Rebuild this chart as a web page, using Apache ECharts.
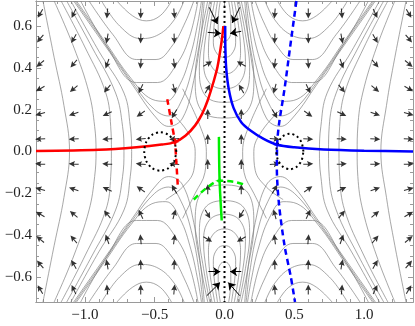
<!DOCTYPE html>
<html>
<head>
<meta charset="utf-8">
<script src="https://cdn.jsdelivr.net/npm/echarts@6/dist/echarts.min.js"></script>
<style>html,body{margin:0;padding:0;background:#fff}#chart{width:415px;height:326px}</style>
</head>
<body>
<div id="chart"></div>
<script>
// tick positions
var xMajor = [-1, -0.5, 0, 0.5, 1]
var xMinor = [-1.3, -1.2, -1.1, -0.9, -0.8, -0.7, -0.6, -0.4, -0.3, -0.2, -0.1, 0.1, 0.2, 0.3, 0.4, 0.6, 0.7, 0.8, 0.9, 1.1, 1.2, 1.3]
var yMajor = [-0.6, -0.4, -0.2, 0, 0.2, 0.4, 0.6]
var yMinor = [-0.7, -0.65, -0.55, -0.5, -0.45, -0.35, -0.3, -0.25, -0.15, -0.1, -0.05, 0.05, 0.1, 0.15, 0.25, 0.3, 0.35, 0.45, 0.5, 0.55, 0.65, 0.7]

// gray stream lines
var arcsLeft = [
  [[-1.30,0.72],[-1.22,0.45],[-1.15,0.22],[-1.11,0],[-1.15,-0.22],[-1.22,-0.45],[-1.30,-0.72]],
  [[-1.22,0.72],[-1.08,0.5],[-0.97,0.28],[-0.93,0.12],[-0.92,0],[-0.93,-0.12],[-0.97,-0.28],[-1.08,-0.5],[-1.22,-0.72]],
  [[-1.17,0.72],[-1.0,0.5],[-0.85,0.28],[-0.815,0.12],[-0.81,0],[-0.815,-0.12],[-0.85,-0.28],[-1.0,-0.5],[-1.17,-0.72]],
  [[-1.13,0.72],[-0.95,0.5],[-0.78,0.28],[-0.73,0.12],[-0.72,0],[-0.73,-0.12],[-0.78,-0.28],[-0.95,-0.5],[-1.13,-0.72]],
  [[-1.1,0.72],[-0.9,0.48],[-0.72,0.28],[-0.675,0.12],[-0.665,0],[-0.675,-0.12],[-0.72,-0.28],[-0.9,-0.48],[-1.1,-0.72]]
]
var arcsRight = [
  [[1.30,0.72],[1.22,0.45],[1.16,0.22],[1.12,0],[1.16,-0.22],[1.22,-0.45],[1.30,-0.72]],
  [[1.22,0.72],[1.09,0.5],[0.99,0.28],[0.955,0.12],[0.95,0],[0.955,-0.12],[0.99,-0.28],[1.09,-0.5],[1.22,-0.72]],
  [[1.17,0.72],[1.0,0.5],[0.86,0.28],[0.825,0.12],[0.82,0],[0.825,-0.12],[0.86,-0.28],[1.0,-0.5],[1.17,-0.72]],
  [[1.14,0.72],[0.96,0.5],[0.8,0.28],[0.75,0.12],[0.745,0],[0.75,-0.12],[0.8,-0.28],[0.96,-0.5],[1.14,-0.72]],
  [[1.11,0.72],[0.91,0.48],[0.735,0.28],[0.69,0.12],[0.68,0],[0.69,-0.12],[0.735,-0.28],[0.91,-0.48],[1.11,-0.72]]
]
var bundleTL = [
  [[-1.08,0.72],[-0.88,0.53],[-0.66,0.32],[-0.5,0.17],[-0.4,0.12],[-0.3,0.16],[-0.22,0.34],[-0.17,0.55],[-0.145,0.72]],
  [[-1.07,0.72],[-0.87,0.53],[-0.66,0.33],[-0.5,0.2],[-0.4,0.17],[-0.31,0.24],[-0.23,0.4],[-0.18,0.58],[-0.155,0.72]],
  [[-1.06,0.72],[-0.86,0.53],[-0.67,0.35],[-0.52,0.25],[-0.42,0.24],[-0.32,0.32],[-0.24,0.47],[-0.19,0.62],[-0.165,0.72]]
]
var bundleTR = [
  [[1.08,0.72],[0.88,0.53],[0.66,0.32],[0.5,0.17],[0.4,0.12],[0.3,0.16],[0.22,0.34],[0.17,0.55],[0.145,0.72]],
  [[1.07,0.72],[0.87,0.53],[0.66,0.33],[0.5,0.2],[0.4,0.17],[0.31,0.24],[0.23,0.4],[0.18,0.58],[0.155,0.72]],
  [[1.06,0.72],[0.86,0.53],[0.67,0.35],[0.52,0.25],[0.42,0.24],[0.32,0.32],[0.24,0.47],[0.19,0.62],[0.165,0.72]]
]
var bundleBL = [
  [[-1.08,-0.72],[-0.88,-0.53],[-0.66,-0.32],[-0.5,-0.17],[-0.4,-0.12],[-0.3,-0.16],[-0.22,-0.34],[-0.17,-0.55],[-0.145,-0.72]],
  [[-1.07,-0.72],[-0.87,-0.53],[-0.66,-0.33],[-0.5,-0.2],[-0.4,-0.17],[-0.31,-0.24],[-0.23,-0.4],[-0.18,-0.58],[-0.155,-0.72]],
  [[-1.06,-0.72],[-0.86,-0.53],[-0.67,-0.35],[-0.52,-0.25],[-0.42,-0.24],[-0.32,-0.32],[-0.24,-0.47],[-0.19,-0.62],[-0.165,-0.72]]
]
var bundleBR = [
  [[1.08,-0.72],[0.88,-0.53],[0.66,-0.32],[0.5,-0.17],[0.4,-0.12],[0.3,-0.16],[0.22,-0.34],[0.17,-0.55],[0.145,-0.72]],
  [[1.07,-0.72],[0.87,-0.53],[0.66,-0.33],[0.5,-0.2],[0.4,-0.17],[0.31,-0.24],[0.23,-0.4],[0.18,-0.58],[0.155,-0.72]],
  [[1.06,-0.72],[0.86,-0.53],[0.67,-0.35],[0.52,-0.25],[0.42,-0.24],[0.32,-0.32],[0.24,-0.47],[0.19,-0.62],[0.165,-0.72]]
]
var cupsTL = [
  [[-1.03,0.72],[-0.84,0.5],[-0.63,0.33],[-0.48,0.33],[-0.34,0.42],[-0.25,0.55],[-0.19,0.72]],
  [[-0.97,0.72],[-0.8,0.56],[-0.63,0.44],[-0.49,0.44],[-0.37,0.51],[-0.28,0.62],[-0.22,0.72]],
  [[-0.88,0.72],[-0.75,0.6],[-0.6,0.54],[-0.47,0.56],[-0.36,0.63],[-0.29,0.72]],
  [[-0.77,0.72],[-0.66,0.65],[-0.56,0.625],[-0.46,0.65],[-0.38,0.72]]
]
var cupsTR = [
  [[1.03,0.72],[0.84,0.5],[0.63,0.33],[0.48,0.33],[0.34,0.42],[0.25,0.55],[0.19,0.72]],
  [[0.97,0.72],[0.8,0.56],[0.63,0.44],[0.49,0.44],[0.37,0.51],[0.28,0.62],[0.22,0.72]],
  [[0.88,0.72],[0.75,0.6],[0.6,0.54],[0.47,0.56],[0.36,0.63],[0.29,0.72]],
  [[0.77,0.72],[0.66,0.65],[0.56,0.625],[0.46,0.65],[0.38,0.72]]
]
var cupsBL = [
  [[-1.03,-0.72],[-0.84,-0.5],[-0.63,-0.33],[-0.48,-0.33],[-0.34,-0.42],[-0.25,-0.55],[-0.19,-0.72]],
  [[-0.97,-0.72],[-0.8,-0.56],[-0.63,-0.44],[-0.49,-0.44],[-0.37,-0.51],[-0.28,-0.62],[-0.22,-0.72]],
  [[-0.88,-0.72],[-0.75,-0.6],[-0.6,-0.54],[-0.47,-0.56],[-0.36,-0.63],[-0.29,-0.72]],
  [[-0.77,-0.72],[-0.66,-0.65],[-0.56,-0.625],[-0.46,-0.65],[-0.38,-0.72]]
]
var cupsBR = [
  [[1.03,-0.72],[0.84,-0.5],[0.63,-0.33],[0.48,-0.33],[0.34,-0.42],[0.25,-0.55],[0.19,-0.72]],
  [[0.97,-0.72],[0.8,-0.56],[0.63,-0.44],[0.49,-0.44],[0.37,-0.51],[0.28,-0.62],[0.22,-0.72]],
  [[0.88,-0.72],[0.75,-0.6],[0.6,-0.54],[0.47,-0.56],[0.36,-0.63],[0.29,-0.72]],
  [[0.77,-0.72],[0.66,-0.65],[0.56,-0.625],[0.46,-0.65],[0.38,-0.72]]
]
var loopsTop = [
  [[-0.03,0.72],[-0.045,0.63],[-0.045,0.57],[-0.025,0.535],[0,0.53],[0.025,0.535],[0.045,0.57],[0.045,0.63],[0.03,0.72]],
  [[-0.05,0.72],[-0.075,0.6],[-0.08,0.52],[-0.05,0.465],[0,0.45],[0.05,0.465],[0.08,0.52],[0.075,0.6],[0.05,0.72]],
  [[-0.07,0.72],[-0.105,0.58],[-0.115,0.47],[-0.08,0.395],[0,0.37],[0.08,0.395],[0.115,0.47],[0.105,0.58],[0.07,0.72]],
  [[-0.09,0.72],[-0.13,0.57],[-0.15,0.43],[-0.11,0.33],[0,0.3],[0.11,0.33],[0.15,0.43],[0.13,0.57],[0.09,0.72]],
  [[-0.105,0.72],[-0.15,0.56],[-0.18,0.4],[-0.14,0.27],[0,0.235],[0.14,0.27],[0.18,0.4],[0.15,0.56],[0.105,0.72]],
  [[-0.12,0.72],[-0.17,0.55],[-0.21,0.35],[-0.17,0.2],[0,0.16],[0.17,0.2],[0.21,0.35],[0.17,0.55],[0.12,0.72]]
]
var loopsBottom = [
  [[-0.03,-0.72],[-0.045,-0.63],[-0.045,-0.57],[-0.025,-0.535],[0,-0.53],[0.025,-0.535],[0.045,-0.57],[0.045,-0.63],[0.03,-0.72]],
  [[-0.05,-0.72],[-0.075,-0.6],[-0.08,-0.52],[-0.05,-0.465],[0,-0.45],[0.05,-0.465],[0.08,-0.52],[0.075,-0.6],[0.05,-0.72]],
  [[-0.07,-0.72],[-0.105,-0.58],[-0.115,-0.47],[-0.08,-0.395],[0,-0.37],[0.08,-0.395],[0.115,-0.47],[0.105,-0.58],[0.07,-0.72]],
  [[-0.09,-0.72],[-0.13,-0.57],[-0.15,-0.43],[-0.11,-0.33],[0,-0.3],[0.11,-0.33],[0.15,-0.43],[0.13,-0.57],[0.09,-0.72]],
  [[-0.105,-0.72],[-0.15,-0.56],[-0.18,-0.4],[-0.14,-0.27],[0,-0.235],[0.14,-0.27],[0.18,-0.4],[0.15,-0.56],[0.105,-0.72]],
  [[-0.12,-0.72],[-0.17,-0.55],[-0.21,-0.35],[-0.17,-0.2],[0,-0.16],[0.17,-0.2],[0.21,-0.35],[0.17,-0.55],[0.12,-0.72]]
]
var centerLines = [
  [[-0.4,0.2],[-0.27,0.1],[-0.21,0.0],[-0.22,-0.09],[-0.3,-0.17],[-0.42,-0.23]],
  [[-0.3,0.3],[-0.18,0.13],[-0.13,0.0],[-0.14,-0.1],[-0.21,-0.2],[-0.3,-0.32]],
  [[0.4,0.2],[0.27,0.1],[0.21,0.0],[0.22,-0.09],[0.3,-0.17],[0.42,-0.23]],
  [[0.3,0.3],[0.18,0.13],[0.13,0.0],[0.14,-0.1],[0.21,-0.2],[0.3,-0.32]]
]

// arrow grid: columns, rows, direction in degrees (0 = right, 90 = up)
var arrowCols = [-1.32, -1.08, -0.84, -0.6, -0.36, -0.12, 0.12, 0.36, 0.6, 0.84, 1.08, 1.32]
var arrowRows = [0.66, 0.54, 0.42, 0.3, 0.18, 0.06, -0.06, -0.18, -0.3, -0.42, -0.54, -0.66]
var arrowAngles = [
  [240, 245, 265, 270, 275, null, null, 265, 270, 275, 295, 300],
  [230, 240, 260, 268, 272, null, null, 268, 272, 280, 300, 310],
  [220, 230, 250, 265, 278, 30, 150, 262, 275, 290, 310, 320],
  [210, 220, 230, 245, 285, 60, 120, 255, 295, 310, 320, 330],
  [195, 200, 205, 215, 240, 90, 90, 300, 325, 335, 340, 345],
  [182, 183, 183, 185, 185, 90, 90, 355, 357, 357, 358, 358],
  [178, 177, 177, 175, 175, 90, 90, 5, 3, 3, 2, 2],
  [165, 160, 155, 145, 120, 90, 90, 60, 35, 25, 20, 15],
  [150, 140, 130, 115, 75, 300, 240, 105, 65, 50, 40, 30],
  [140, 130, 110, 95, 82, 330, 210, 98, 85, 70, 50, 40],
  [130, 120, 100, 92, 88, null, null, 92, 88, 80, 60, 50],
  [120, 115, 95, 90, 85, null, null, 95, 90, 85, 65, 60]
]
// long arrows next to the two nodes
var longArrows = [
  [[-0.11,0.69],[-0.05,0.61]], [[0.11,0.69],[0.055,0.615]],
  [[-0.12,0.57],[-0.025,0.565]], [[0.12,0.575],[0.04,0.565]],
  [[-0.127,-0.69],[-0.032,-0.627]], [[0.11,-0.69],[0.027,-0.627]],
  [[-0.115,-0.575],[-0.03,-0.575]], [[0.12,-0.575],[0.04,-0.575]]
]

// coloured curves
var redSolid = [[-1.35,0.002],[-0.9,0.008],[-0.63,0.02],[-0.45,0.033],[-0.355,0.045],[-0.28,0.075],[-0.21,0.125],[-0.16,0.18],[-0.12,0.245],[-0.08,0.33],[-0.05,0.405],[-0.02,0.53],[-0.008,0.6]]
var blueSolid = [[0.005,0.6],[0.006,0.5],[0.012,0.4],[0.03,0.3],[0.064,0.21],[0.12,0.14],[0.186,0.1],[0.28,0.06],[0.377,0.032],[0.5,0.02],[0.71,0.01],[1.0,0.004],[1.35,0.0]]
var redDashed = [[-0.41,0.25],[-0.38,0.14],[-0.355,0.045],[-0.345,-0.05],[-0.335,-0.16]]
var blueDashed = [[0.515,0.72],[0.47,0.5],[0.43,0.3],[0.39,0.13],[0.377,0.032],[0.375,-0.08],[0.39,-0.25],[0.43,-0.45],[0.475,-0.6],[0.505,-0.72]]
var greenSolid = [[-0.04,0.07],[-0.035,-0.14],[-0.02,-0.33]]
var greenDashed = [[-0.22,-0.23],[-0.13,-0.175],[-0.035,-0.14],[0.07,-0.145],[0.15,-0.16]]
var blackDotted = [[0,0.72],[0,-0.72]]
var circleLeft = [[-0.345,0],[-0.36,0.046],[-0.4025,0.08],[-0.46,0.092],[-0.5175,0.08],[-0.56,0.046],[-0.575,0],[-0.56,-0.046],[-0.5175,-0.08],[-0.46,-0.092],[-0.4025,-0.08],[-0.36,-0.046],[-0.345,0]]
var circleRight = [[0.565,0],[0.552,0.0425],[0.5165,0.0736],[0.468,0.085],[0.4195,0.0736],[0.384,0.0425],[0.371,0],[0.384,-0.0425],[0.4195,-0.0736],[0.468,-0.085],[0.5165,-0.0736],[0.552,-0.0425],[0.565,0]]
var redPoint = [[-0.355,0.045]]
var bluePoint = [[0.377,0.032]]
var greenPoint = [[-0.035,-0.14]]

var chart = echarts.init(document.getElementById('chart'))
var frame = '#9a9a9a'
var gray = 'rgba(125,125,125,0.85)'
var arrowPath = 'path://M5,0L10,8L5,6.5L0,8Z M4.1,6H5.9V13H4.1Z'
var starPath = 'path://M5,0L6.3,3.7L10,5L6.3,6.3L5,10L3.7,6.3L0,5L3.7,3.7Z'

function fmt(v) {
  return (v < 0 ? '\u2212' : '') + Math.abs(v).toFixed(1)
}

function xAx(position, ticks, len, label) {
  return {
    type: 'value', position: position, min: -1.35, max: 1.35,
    axisLine: { show: true, onZero: false, lineStyle: { color: frame, width: 1 } },
    axisTick: { show: true, inside: true, length: len, customValues: ticks, lineStyle: { color: frame } },
    axisLabel: { show: label, customValues: ticks, margin: 6, fontFamily: 'Liberation Serif', fontSize: 15, color: '#222', formatter: fmt },
    splitLine: { show: false }
  }
}
function yAx(position, ticks, len, label) {
  return {
    type: 'value', position: position, min: -0.72, max: 0.72,
    axisLine: { show: true, onZero: false, lineStyle: { color: frame, width: 1 } },
    axisTick: { show: true, inside: true, length: len, customValues: ticks, lineStyle: { color: frame } },
    axisLabel: { show: label, customValues: ticks, margin: 4, fontFamily: 'Liberation Serif', fontSize: 15, color: '#222', formatter: fmt },
    splitLine: { show: false }
  }
}

var series = []
function addGray(list) {
  list.forEach(function (pts) {
    series.push({ type: 'line', data: pts, smooth: 0.4, showSymbol: false, silent: true, z: 1,
      lineStyle: { color: gray, width: 0.8 } })
  })
}
[arcsLeft, arcsRight, bundleTL, bundleTR, bundleBL, bundleBR, cupsTL, cupsTR, cupsBL, cupsBR, loopsTop, loopsBottom, centerLines].forEach(addGray)

var arrowData = []
arrowRows.forEach(function (y, i) {
  arrowCols.forEach(function (x, j) {
    var a = arrowAngles[i][j]
    if (a === null) return
    arrowData.push({ value: [x, y], symbolRotate: a - 90 })
  })
})
series.push({ type: 'scatter', data: arrowData, symbol: arrowPath, symbolSize: [6, 10], z: 3, silent: true,
  itemStyle: { color: '#000' } })
series.push({ type: 'lines', coordinateSystem: 'cartesian2d', z: 3, silent: true,
  data: longArrows.map(function (c) { return { coords: c } }),
  symbol: ['none', 'arrow'], symbolSize: 7, lineStyle: { color: '#000', width: 1, opacity: 1, curveness: 0 } })

function curve(pts, color, width, type, z) {
  series.push({ type: 'line', data: pts, smooth: 0.3, showSymbol: false, silent: true, z: z || 4,
    lineStyle: { color: color, width: width, type: type } })
}
curve(blackDotted, '#000', 2, [2, 3], 4)
curve(redSolid, '#ff0000', 2.5, 'solid', 5)
curve(blueSolid, '#0000ff', 2.5, 'solid', 5)
curve(redDashed, '#ff0000', 2.5, [6, 4], 5)
curve(blueDashed, '#0000ff', 2.5, [6, 4], 5)
curve(greenSolid, '#00ee00', 2.5, 'solid', 5)
curve(greenDashed, '#00ee00', 2.5, [6, 4], 5)
curve(circleLeft, '#000', 2, [2, 3], 5)
curve(circleRight, '#000', 2, [2, 3], 5)
series.push({ type: 'scatter', data: redPoint, symbol: starPath, symbolSize: 9, z: 6, itemStyle: { color: '#ff0000' } })
series.push({ type: 'scatter', data: bluePoint, symbol: starPath, symbolSize: 9, z: 6, itemStyle: { color: '#0000ff' } })
series.push({ type: 'scatter', data: greenPoint, symbol: starPath, symbolSize: 9, z: 6, itemStyle: { color: '#00ee00' } })

chart.setOption({
  animation: false,
  backgroundColor: '#fff',
  grid: { left: 36, right: 2, top: 1, bottom: 24, containLabel: false },
  xAxis: [xAx('bottom', xMajor, 5, true), xAx('bottom', xMinor, 3, false), xAx('top', xMajor, 5, false), xAx('top', xMinor, 3, false)],
  yAxis: [yAx('left', yMajor, 5, true), yAx('left', yMinor, 3, false), yAx('right', yMajor, 5, false), yAx('right', yMinor, 3, false)],
  series: series
})
</script>
</body>
</html>
